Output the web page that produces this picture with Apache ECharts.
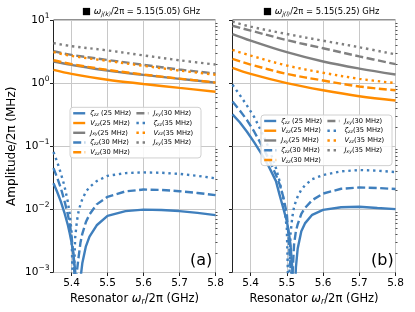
<!DOCTYPE html>
<html><head><meta charset="utf-8">
<script src="https://cdn.jsdelivr.net/npm/echarts@6/dist/echarts.min.js"></script>
<style>html,body{margin:0;padding:0;background:#fff}#c{width:415px;height:312px}</style>
</head><body><div id="c"></div>
<script>
// ---------- data ----------
const xTicks = [5.4, 5.5, 5.6, 5.7, 5.8];
const yMajor = [0.001, 0.01, 0.1, 1, 10];
const yMinor = [0.002,0.003,0.004,0.005,0.006,0.007,0.008,0.009,
                0.02,0.03,0.04,0.05,0.06,0.07,0.08,0.09,
                0.2,0.3,0.4,0.5,0.6,0.7,0.8,0.9,
                2,3,4,5,6,7,8,9];
const yLabels = {0.001:'−3', 0.01:'−2', 0.1:'−1', 1:'0', 10:'1'};

// upper curves (both panels)
const xUp = [5.35, 5.4, 5.5, 5.6, 5.7, 5.8];
// panel (a)
const aV25 = [1.62, 1.40, 1.13, 0.97, 0.84, 0.73];
const aJ25 = [2.20, 1.95, 1.58, 1.35, 1.17, 1.02];
const aV30 = [2.30, 2.00, 1.62, 1.37, 1.18, 1.02];
const aJ30 = [3.20, 2.80, 2.33, 1.95, 1.64, 1.42];
const aV35 = [3.10, 2.70, 2.25, 1.88, 1.58, 1.36];
const aJ35 = [4.30, 3.85, 3.30, 2.75, 2.30, 1.97];
const xZetaA = [5.35,5.36,5.37,5.38,5.39,5.395,5.40,5.405,5.41,5.415,5.42,5.425,5.43,5.44,5.45,5.47,5.5,5.55,5.6,5.65,5.7,5.75,5.8];
const aZ25 = [0.026,0.019,0.0135,0.009,0.0056,0.0042,0.003,0.002,0.0011,0.0004,0.0002,0.0008,0.0014,0.0026,0.0037,0.0056,0.0079,0.0094,0.0099,0.0098,0.0094,0.0088,0.0081];
const aZ30 = [0.045,0.032,0.022,0.014,0.0082,0.0058,0.0038,0.002,0.0006,0.0006,0.0018,0.003,0.0041,0.0063,0.0083,0.012,0.0158,0.0193,0.0206,0.0203,0.0194,0.0182,0.0168];
const aZ35 = [0.081,0.057,0.038,0.024,0.013,0.0085,0.0045,0.0003,0.0035,0.0065,0.0095,0.012,0.0145,0.019,0.0225,0.028,0.034,0.0375,0.0385,0.038,0.0365,0.034,0.031];
// panel (b)
const bV25 = [1.75, 1.40, 1.00, 0.77, 0.62, 0.53];
const bJ25 = [6.00, 4.72, 3.09, 2.20, 1.70, 1.37];
const bV30 = [2.42, 1.97, 1.40, 1.10, 0.885, 0.77];
const bJ30 = [8.10, 6.80, 4.80, 3.57, 2.65, 2.00];
const bV35 = [3.36, 2.73, 1.90, 1.46, 1.17, 1.00];
const bJ35 = [9.40, 7.85, 6.00, 4.70, 3.70, 2.85];
const xZetaB = [5.35,5.37,5.39,5.41,5.43,5.45,5.47,5.48,5.49,5.50,5.505,5.51,5.515,5.52,5.525,5.53,5.54,5.55,5.57,5.6,5.65,5.7,5.75,5.8];
const bZ25 = [0.32,0.24,0.17,0.115,0.076,0.048,0.028,0.017,0.0105,0.0065,0.0045,0.0028,0.0012,0.0002,0.0012,0.0024,0.0045,0.006,0.0082,0.0098,0.0108,0.011,0.0105,0.0101];
const bZ30 = [0.51,0.37,0.26,0.17,0.105,0.063,0.035,0.025,0.016,0.0085,0.0035,0.0012,0.0008,0.0028,0.0045,0.0058,0.0085,0.0105,0.014,0.0178,0.0212,0.0222,0.0218,0.021];
const bZ35 = [0.94,0.65,0.44,0.29,0.17,0.095,0.045,0.028,0.015,0.005,0.0003,0.004,0.0075,0.011,0.0135,0.016,0.0205,0.024,0.030,0.035,0.040,0.042,0.041,0.039];

const legendNames = ['z25','V25','J25','z30','V30','J30','z35','V35','J35'];
const legendText = {
  z25:'{g|ζ}{s|zz} (25 MHz)', V25:'{g|V}{s|zz}(25 MHz)', J25:'{g|J}{s|xy}(25 MHz)',
  z30:'{g|ζ}{s|zz}(30 MHz)',  V30:'{g|V}{s|zz}(30 MHz)', J30:'{g|J}{s|xy}(30 MHz)',
  z35:'{g|ζ}{s|zz}(35 MHz)',  V35:'{g|V}{s|zz}(35 MHz)', J35:'{g|J}{s|xy}(35 MHz)'
};

// ---------- styles ----------
const C = {z:'#3f7fbd', V:'#ff8c00', J:'#808080'};
const DASH = {'25':'solid', '30':[8,3.5], '35':[2.4,3.8]};
const FONT = 'DejaVu Sans';

function pairs(xs, ys){ return xs.map((x,i)=>[x, ys[i]]); }
function mk(key, gi, xs, ys, smooth){
  const kind = key[0], sz = key.slice(1);
  return {
    name: key, type:'line', xAxisIndex: gi, yAxisIndex: gi*2,
    data: pairs(xs, ys), symbol:'none', showSymbol:false, smooth: smooth ? 0.35 : false,
    clip: true, animation:false,
    lineStyle:{color: C[kind], width: 2.4, type: DASH[sz], cap:'butt'},
    itemStyle:{color: C[kind]}
  };
}
const panels = [
  {Z:[aZ25,aZ30,aZ35], V:[aV25,aV30,aV35], J:[aJ25,aJ30,aJ35], xz:xZetaA},
  {Z:[bZ25,bZ30,bZ35], V:[bV25,bV30,bV35], J:[bJ25,bJ30,bJ35], xz:xZetaB}
];
const series = [];
panels.forEach((p, gi)=>{
  ['25','30','35'].forEach((sz, k)=>{
    series.push(mk('z'+sz, gi, p.xz, p.Z[k], false));
    series.push(mk('V'+sz, gi, xUp, p.V[k], true));
    series.push(mk('J'+sz, gi, xUp, p.J[k], true));
  });
});

const grids = [
  {left: 53.5, top: 20, width: 162, height: 252.5},
  {left: 232.5, top: 20, width: 163, height: 252.5}
];
const grid = grids.map(g=>Object.assign({show:true, borderColor:'#222', borderWidth:1, backgroundColor:'transparent'}, g));

const xRich = {
  n:{fontFamily:FONT, fontSize:11.5, color:'#000'},
  w:{fontFamily:FONT, fontSize:11.5, fontStyle:'italic', color:'#000'},
  sub:{fontFamily:FONT, fontSize:8, fontStyle:'italic', color:'#000', padding:[6,0,0,0]}
};
const xAxis = [0,1].map(gi=>({
  type:'value', gridIndex: gi, min:5.35, max:5.8,
  axisLine:{show:false},
  axisTick:{show:true, customValues: xTicks, length:3.5, inside:false, lineStyle:{color:'#222', width:1}},
  axisLabel:{customValues: xTicks, fontFamily:FONT, fontSize:10.5, color:'#000', margin:5, formatter:v=>v.toFixed(1)},
  splitLine:{show:true, lineStyle:{color:'#c8c8c8', width:1}},
  name:'{n|Resonator }{w|ω}{sub|r}{n|/2π (GHz)}', nameLocation:'middle', nameGap:18,
  nameTextStyle:{rich:xRich}
}));
const yAxis = [];
[0,1].forEach(gi=>{
  yAxis.push({
    type:'log', gridIndex: gi, min:0.001, max:10, logBase:10,
    axisLine:{show:false},
    axisTick:{show:true, customValues: yMajor, length:3.5, lineStyle:{color:'#222', width:1}},
    axisLabel:{show: gi===0, customValues: yMajor, margin:4,
      formatter: v=>{ const key = Object.keys(yLabels).find(k=>Math.abs(Math.log10(+k)-Math.log10(v))<1e-6); return '{b|10}{e|' + yLabels[key] + '}'; },
      rich:{b:{fontFamily:FONT, fontSize:10.5, color:'#000'}, e:{fontFamily:FONT, fontSize:7.5, color:'#000', padding:[0,0,8,0]}}},
    splitLine:{show:true, lineStyle:{color:'#c8c8c8', width:1}},
    name: gi===0 ? 'Amplitude/2π (MHz)' : '', nameLocation:'middle', nameGap:36, nameRotate:90,
    nameTextStyle:{fontFamily:FONT, fontSize:12, color:'#000'}
  });
  yAxis.push({
    type:'log', gridIndex: gi, min:0.001, max:10, logBase:10,
    axisLine:{show:false}, axisLabel:{show:false}, splitLine:{show:false},
    axisTick:{show:true, customValues: yMinor, length:2, lineStyle:{color:'#222', width:0.8}}
  });
});

const legRich = {
  g:{fontFamily:FONT, fontSize:6.7, fontStyle:'italic', color:'#000', lineHeight:8.75},
  s:{fontFamily:FONT, fontSize:4.7, fontStyle:'italic', color:'#000', padding:[3,0,0,0], lineHeight:8.75}
};
const legend = [{left:70, top:107.3}, {left:261, top:115}].map(pos=>({
  left: pos.left, top: pos.top, height: 48, orient:'vertical',
  data: legendNames, selectedMode:false,
  itemWidth: 12, itemHeight: 6, itemGap: 1,
  padding:[1.6,3.6,1.3,2],
  backgroundColor:'rgba(255,255,255,0.85)', borderColor:'#d0d0d0', borderWidth:1, borderRadius:3,
  formatter: n=>legendText[n],
  textStyle:{fontFamily:FONT, fontSize:6.7, color:'#000', width:44, lineHeight:8.75, rich:legRich},
  itemStyle:{opacity:0, borderWidth:0},
  lineStyle:{width:2.4}
}));

const tRich = {
  sq:{fontFamily:FONT, fontSize:9.5, fontWeight:'normal', color:'#000'},
  w:{fontFamily:FONT, fontSize:9, fontWeight:'normal', fontStyle:'italic', color:'#000'},
  sub:{fontFamily:FONT, fontSize:6, fontWeight:'normal', fontStyle:'italic', color:'#000', padding:[4,0,0,0]},
  n:{fontFamily:FONT, fontSize:8.4, fontWeight:'normal', color:'#000'}
};
const title = [
  {text:'{sq|■}{n| }{w|ω}{sub|j(k)}{n|/2π = 5.15(5.05) GHz}', left:82, top:7, padding:0, textStyle:{fontWeight:'normal', rich:tRich}},
  {text:'{sq|■}{n| }{w|ω}{sub|j(l)}{n|/2π = 5.15(5.25) GHz}', left:263, top:7, padding:0, textStyle:{fontWeight:'normal', rich:tRich}}
];

const chart = echarts.init(document.getElementById('c'), null, {renderer:'canvas'});
chart.setOption({
  animation:false,
  backgroundColor:'#fff',
  title, grid, xAxis, yAxis, legend, series,
  graphic:[
    {type:'text', left:190, top:253, style:{text:'(a)', font:'16px "DejaVu Sans"', fill:'#000'}},
    {type:'text', left:371, top:253, style:{text:'(b)', font:'16px "DejaVu Sans"', fill:'#000'}}
  ]
});
</script>
</body></html>
